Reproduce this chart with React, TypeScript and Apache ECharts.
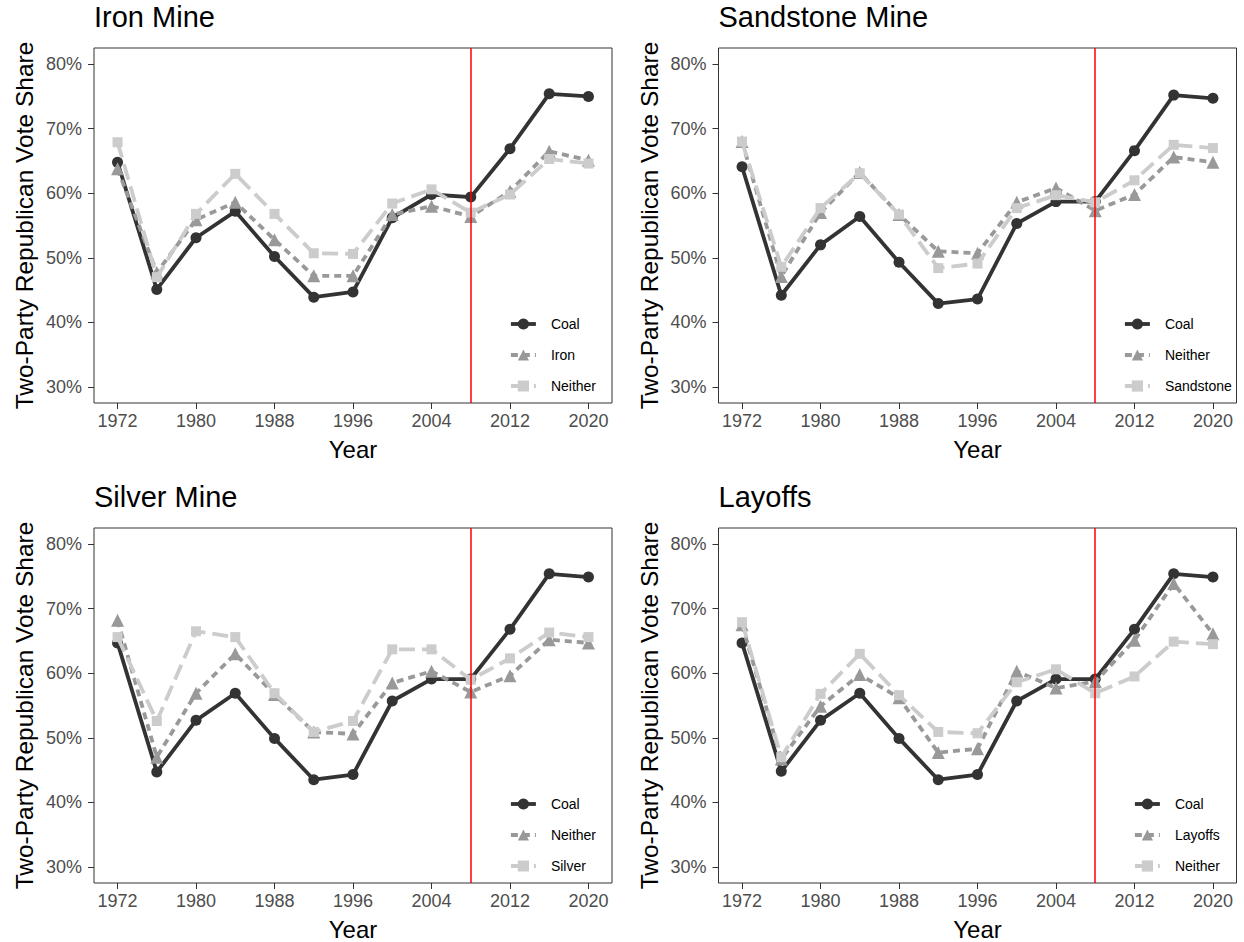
import React, { useEffect, useRef } from "react";
import * as echarts from "echarts";

const years = [1972, 1976, 1980, 1984, 1988, 1992, 1996, 2000, 2004, 2008, 2012, 2016, 2020];
const xTicks = [1972, 1980, 1988, 1996, 2004, 2012, 2020];
const yTicks = [30, 40, 50, 60, 70, 80];
const vlineYear = 2008;

// Panel 1: Iron Mine
const ironCoal = [64.8, 45.1, 53.1, 57.2, 50.2, 43.9, 44.7, 56.2, 59.8, 59.4, 66.9, 75.4, 75.0];
const ironIron = [63.8, 47.7, 55.9, 58.6, 52.8, 47.2, 47.2, 56.7, 58.0, 56.4, 60.3, 66.5, 65.1];
const ironNeither = [67.9, 47.0, 56.8, 63.0, 56.8, 50.7, 50.6, 58.4, 60.6, 57.0, 59.8, 65.3, 64.6];

// Panel 2: Sandstone Mine
const sandCoal = [64.1, 44.2, 52.0, 56.4, 49.3, 42.9, 43.6, 55.3, 58.7, 58.7, 66.6, 75.2, 74.7];
const sandNeither = [68.0, 47.1, 57.0, 63.2, 56.7, 51.0, 50.7, 58.6, 60.8, 57.3, 59.8, 65.6, 64.8];
const sandSandstone = [68.0, 48.6, 57.7, 63.1, 56.7, 48.4, 49.1, 57.7, 59.7, 58.6, 62.0, 67.5, 67.0];

// Panel 3: Silver Mine
const silverCoal = [64.7, 44.7, 52.7, 56.9, 49.9, 43.5, 44.3, 55.7, 59.1, 59.1, 66.8, 75.4, 74.9];
const silverNeither = [68.2, 47.0, 56.9, 63.0, 56.7, 50.9, 50.6, 58.5, 60.3, 57.1, 59.6, 65.2, 64.7];
const silverSilver = [65.6, 52.6, 66.5, 65.6, 56.9, 50.9, 52.6, 63.7, 63.7, 59.0, 62.3, 66.3, 65.6];

// Panel 4: Layoffs
const layCoal = [64.7, 44.8, 52.7, 56.9, 49.9, 43.5, 44.3, 55.7, 59.1, 59.1, 66.8, 75.4, 74.9];
const layLayoffs = [67.5, 46.7, 54.9, 59.8, 56.2, 47.7, 48.3, 60.3, 57.7, 58.7, 65.1, 73.9, 66.1];
const layNeither = [67.9, 47.0, 56.8, 63.0, 56.6, 50.9, 50.7, 58.6, 60.6, 56.9, 59.5, 64.9, 64.5];

const panelTitles = ["Iron Mine", "Sandstone Mine", "Silver Mine", "Layoffs"];
const panelNames = [
  ["Coal", "Iron", "Neither"],
  ["Coal", "Neither", "Sandstone"],
  ["Coal", "Neither", "Silver"],
  ["Coal", "Layoffs", "Neither"],
];
const panelValues = [
  [ironCoal, ironIron, ironNeither],
  [sandCoal, sandNeither, sandSandstone],
  [silverCoal, silverNeither, silverSilver],
  [layCoal, layLayoffs, layNeither],
];

const FONT = '"Liberation Sans", Arial, Helvetica, sans-serif';

const layout = [
  { left: 94, top: 48, legendLeft: 509, legendTop: 317 },
  { left: 718.5, top: 48, legendLeft: 1123, legendTop: 317 },
  { left: 94, top: 528, legendLeft: 509, legendTop: 797 },
  { left: 718.5, top: 528, legendLeft: 1133, legendTop: 797 },
];
const GRID_W = 518;
const GRID_H = 355;

const styles = [
  { color: "#333333", type: "solid" as any, symbol: "circle", size: 11 },
  { color: "#999999", type: [7, 5] as any, symbol: "triangle", size: 13 },
  { color: "#cccccc", type: [16, 7] as any, symbol: "rect", size: 10 },
];

export default function App() {
  const ref = useRef<HTMLDivElement>(null);
  useEffect(() => {
    if (!ref.current) return;
    const chart = echarts.init(ref.current, undefined, { renderer: "svg" });
    const grids: any[] = [];
    const xAxes: any[] = [];
    const yAxes: any[] = [];
    const titles: any[] = [];
    const legends: any[] = [];
    const series: any[] = [];
    layout.forEach((L, i) => {
      grids.push({
        left: L.left, top: L.top, width: GRID_W, height: GRID_H,
        show: true, borderColor: "#333333", borderWidth: 1, backgroundColor: "transparent",
      });
      xAxes.push({
        type: "value", gridIndex: i, min: 1969.6, max: 2022.4,
        splitLine: { show: false },
        axisLine: { show: false },
        axisTick: { show: true, length: 6, lineStyle: { color: "#333333", width: 1 }, customValues: xTicks },
        axisLabel: { customValues: xTicks, color: "#4d4d4d", fontSize: 18, margin: 9, fontFamily: FONT, formatter: (v: number) => String(v) },
        name: "Year", nameLocation: "middle", nameGap: 34,
        nameTextStyle: { fontSize: 24, color: "#000000", fontFamily: FONT },
      });
      yAxes.push({
        type: "value", gridIndex: i, min: 27.5, max: 82.5,
        splitLine: { show: false },
        axisLine: { show: false },
        axisTick: { show: true, length: 6, lineStyle: { color: "#333333", width: 1 }, customValues: yTicks },
        axisLabel: { customValues: yTicks, color: "#4d4d4d", fontSize: 18, margin: 12, fontFamily: FONT, formatter: (v: number) => v + "%" },
        name: "Two-Party Republican Vote Share", nameLocation: "middle", nameGap: 57,
        nameTextStyle: { fontSize: 24.5, color: "#000000", fontFamily: FONT },
      });
      titles.push({
        text: panelTitles[i], left: L.left, top: L.top - 46, padding: 0,
        textStyle: { fontSize: 29, fontWeight: "normal", color: "#000000", fontFamily: FONT },
      });
      const names = panelNames[i];
      const ids = names.map((n) => `${n}#${i}`);
      legends.push({
        orient: "vertical", left: L.legendLeft, top: L.legendTop, padding: 0,
        itemWidth: 25, itemHeight: 14, itemGap: 17,
        data: ids, selectedMode: false,
        lineStyle: { width: 3.8 },
        formatter: (name: string) => name.replace(/#\d$/, ""),
        textStyle: { fontSize: 14, color: "#000000", fontFamily: FONT, padding: [0, 0, 0, 10] },
      });
      names.forEach((n, k) => {
        const st = styles[k];
        const s: any = {
          name: ids[k], type: "line", xAxisIndex: i, yAxisIndex: i,
          data: years.map((y, j) => [y, panelValues[i][k][j]]),
          symbol: st.symbol, symbolSize: st.size, showSymbol: true,
          lineStyle: { color: st.color, width: 3.8, type: st.type },
          itemStyle: { color: st.color },
          emphasis: { disabled: true },
          z: 2 + k,
        };
        series.push(s);
      });
      series.push({
        name: `vline#${i}`, type: "line", xAxisIndex: i, yAxisIndex: i,
        data: [[vlineYear, null]], showSymbol: false, z: 6,
        markLine: {
          silent: true, symbol: ["none", "none"], label: { show: false },
          lineStyle: { color: "#ff0000", width: 1.5, type: "solid" },
          emphasis: { disabled: true },
          data: [{ xAxis: vlineYear }],
        },
      });
    });
    chart.setOption({
      animation: false,
      backgroundColor: "#ffffff",
      textStyle: { fontFamily: FONT },
      title: titles,
      legend: legends,
      grid: grids,
      xAxis: xAxes,
      yAxis: yAxes,
      series,
    });
    return () => chart.dispose();
  }, []);
  return (
    <div
      ref={ref}
      style={{ position: "fixed", left: 0, top: 0, width: 1244, height: 942, background: "#fff" }}
    />
  );
}
